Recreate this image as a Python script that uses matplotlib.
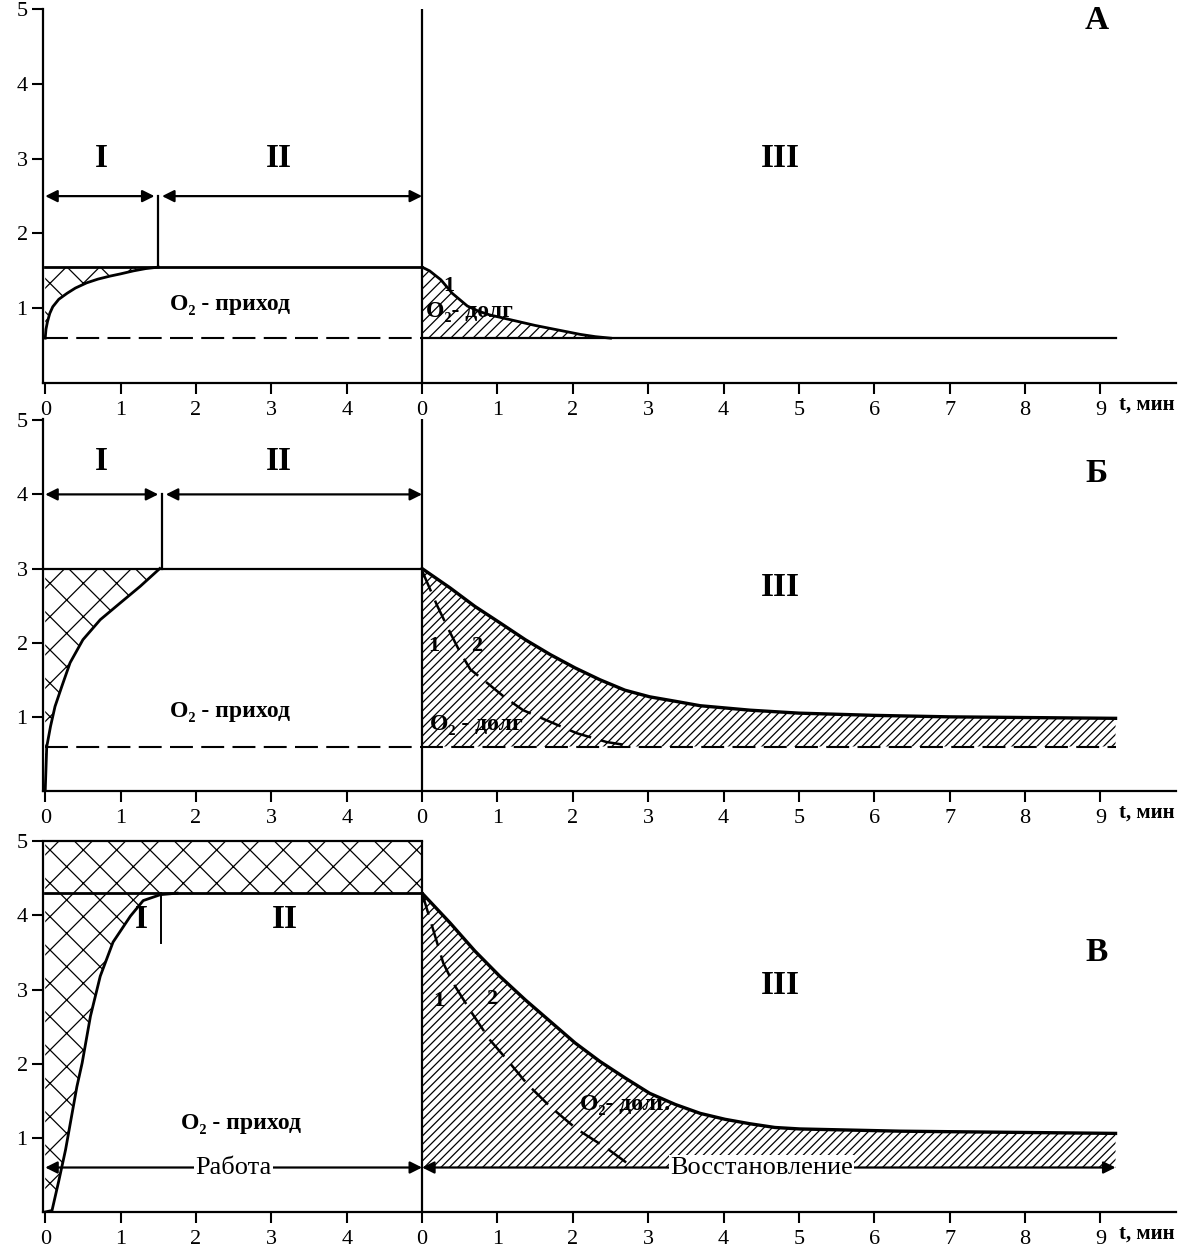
import matplotlib
matplotlib.use('Agg')
import matplotlib.pyplot as plt

plt.rcParams['font.family'] = ['Liberation Serif', 'DejaVu Serif']
plt.rcParams['hatch.linewidth'] = 0.9

# ---------------- data ----------------
WORK_END = 5.0          # recovery time is drawn shifted by the work duration
T_END_REC = 9.2         # end of the recovery traces (min)
x_tick_pos = list(range(15))
x_tick_labels = ['0', '1', '2', '3', '4', '0', '1', '2', '3', '4', '5', '6', '7', '8', '9']
y_ticks = [1, 2, 3, 4, 5]
y_tick_labels = ['1', '2', '3', '4', '5']

# Panel A
a_plateau = 1.55
a_base = 0.6
a_phase_end = 1.5
a_work_t = [0, 0.01, 0.03, 0.06, 0.1, 0.18, 0.29, 0.4, 0.55, 0.7, 0.86, 1.0, 1.17, 1.33, 1.5]
a_work_y = [0.6, 0.72, 0.82, 0.93, 1.02, 1.12, 1.2, 1.27, 1.34, 1.39, 1.43, 1.46, 1.5, 1.53, 1.55]
a_rec_t = [0, 0.1, 0.25, 0.4, 0.6, 0.75, 0.9, 1.2, 1.5, 1.8, 2.1, 2.3, 2.5]
a_rec_y = [1.55, 1.5, 1.38, 1.2, 1.03, 0.96, 0.91, 0.84, 0.77, 0.71, 0.65, 0.62, 0.6]

# Panel Б
b_plateau = 3.0
b_base = 0.6
b_phase_end = 1.55
b_work_t = [0, 0.02, 0.03, 0.07, 0.13, 0.22, 0.33, 0.5, 0.73, 1.0, 1.26, 1.52]
b_work_y = [0, 0.6, 0.65, 0.87, 1.14, 1.41, 1.73, 2.04, 2.31, 2.54, 2.76, 3.0]
b_rec_t = [0, 0.37, 0.7, 1.03, 1.37, 1.7, 2.03, 2.36, 2.69, 3.02, 3.36, 3.69, 4.02, 4.35,
           5.0, 6.0, 7.0, 9.2]
b_rec_y = [3.0, 2.74, 2.49, 2.27, 2.04, 1.84, 1.66, 1.5, 1.36, 1.27, 1.21, 1.15, 1.12, 1.09,
           1.05, 1.02, 1.0, 0.98]
b_fast_t = [0, 0.2, 0.37, 0.5, 0.64, 0.86, 1.1, 1.34, 1.66, 2.05, 2.45, 2.7]
b_fast_y = [2.97, 2.5, 2.14, 1.88, 1.64, 1.46, 1.26, 1.09, 0.95, 0.78, 0.66, 0.62]

# Panel В
v_plateau = 4.3
v_top = 5.0
v_base = 0.6
v_phase_end = 1.53
v_work_t = [0, 0.09, 0.18, 0.27, 0.42, 0.49, 0.6, 0.73, 0.9, 1.13, 1.3, 1.53, 1.75]
v_work_y = [0, 0.02, 0.42, 0.84, 1.69, 2.01, 2.64, 3.18, 3.64, 3.99, 4.2, 4.28, 4.3]
v_rec_t = [0, 0.37, 0.7, 1.03, 1.37, 1.7, 2.03, 2.36, 2.69, 3.02, 3.36, 3.69, 4.02, 4.35,
           4.68, 5.01, 6.34, 9.2]
v_rec_y = [4.3, 3.9, 3.52, 3.18, 2.86, 2.57, 2.28, 2.03, 1.81, 1.6, 1.45, 1.33, 1.25, 1.19,
           1.14, 1.12, 1.09, 1.06]
v_fast_t = [0, 0.28, 0.41, 0.65, 0.9, 1.13, 1.4, 1.7, 2.05, 2.45, 2.8]
v_fast_y = [4.3, 3.36, 3.09, 2.7, 2.32, 2.05, 1.72, 1.42, 1.12, 0.86, 0.6]

# ---------------- figure ----------------
fig = plt.figure(figsize=(11.9, 12.5), dpi=100)
axA = fig.add_axes([0.0361, 0.6936, 0.952, 0.2996])
axB = fig.add_axes([0.0361, 0.3672, 0.952, 0.2972])
axV = fig.add_axes([0.0361, 0.0304, 0.952, 0.2972])

LW = 2.0
REC_END = WORK_END + T_END_REC


def rec(ts):
    return [WORK_END + t for t in ts]


def style(ax):
    ax.set_xlim(-0.03, 15.0)
    ax.set_ylim(0, 5.01)
    for s in ['top', 'right']:
        ax.spines[s].set_visible(False)
    for s in ['left', 'bottom']:
        ax.spines[s].set_linewidth(1.6)
    ax.set_xticks(x_tick_pos)
    ax.set_xticklabels(x_tick_labels)
    ax.set_yticks(y_ticks)
    ax.set_yticklabels(y_tick_labels)
    ax.tick_params(axis='both', direction='out', length=8, width=1.5, labelsize=16)
    ax.tick_params(axis='x', pad=5)
    ax.tick_params(axis='y', pad=3)
    ax.axvline(WORK_END, ymin=0, ymax=5.0 / 5.01, color='black', lw=1.6)
    ax.text(14.25, -0.16, 't, мин', fontsize=15, fontweight='bold', va='top', ha='left',
            clip_on=False)


def dbl_arrow(ax, x0, x1, y, ms=18):
    ax.annotate('', xy=(x1, y), xytext=(x0, y),
                arrowprops=dict(arrowstyle='<|-|>', color='black', lw=1.6,
                                mutation_scale=ms, shrinkA=0, shrinkB=0))


roman_kw = dict(fontsize=24, fontweight='bold', ha='center', va='center')
lbl_kw = dict(fontsize=17, fontweight='bold', va='center')
num_kw = dict(fontsize=16, fontweight='bold', va='center')

# ---- Panel A ----
ax = axA
style(ax)
ax.fill_between(a_work_t, a_work_y, a_plateau, facecolor='none', edgecolor='black',
                hatch='x', linewidth=0)
ax.plot(a_work_t, a_work_y, color='black', lw=LW)
ax.plot([0, WORK_END], [a_plateau, a_plateau], color='black', lw=LW)
ax.plot([0, WORK_END], [a_base, a_base], color='black', lw=1.5, ls=(0, (11, 4)))
ax.plot([a_phase_end, a_phase_end], [a_plateau, 2.5], color='black', lw=1.6)
dbl_arrow(ax, 0.0, a_phase_end - 0.05, 2.5)
dbl_arrow(ax, a_phase_end + 0.05, WORK_END, 2.5)
ax.fill_between(rec(a_rec_t), a_rec_y, a_base, facecolor='none', edgecolor='black',
                hatch='///', linewidth=0)
ax.plot(rec(a_rec_t), a_rec_y, color='black', lw=LW)
ax.plot([WORK_END, REC_END], [a_base, a_base], color='black', lw=1.6)
ax.text(0.75, 3.0, 'I', **roman_kw)
ax.text(3.1, 3.0, 'II', **roman_kw)
ax.text(9.75, 3.0, 'III', **roman_kw)
ax.text(13.95, 4.85, 'А', **roman_kw)
ax.text(1.65, 1.05, 'O₂ - приход', ha='left', **lbl_kw)
ax.text(5.28, 1.3, '1', ha='left', **num_kw)
ax.text(5.05, 0.95, 'O₂- долг', ha='left', **lbl_kw)

# ---- Panel Б ----
ax = axB
style(ax)
ax.fill_between(b_work_t, b_work_y, b_plateau, facecolor='none', edgecolor='black',
                hatch='x', linewidth=0)
ax.plot(b_work_t, b_work_y, color='black', lw=LW)
ax.plot([0, WORK_END], [b_plateau, b_plateau], color='black', lw=1.6)
ax.plot([0, REC_END], [b_base, b_base], color='black', lw=1.5, ls=(0, (11, 4)))
ax.plot([b_phase_end, b_phase_end], [b_plateau, 4.0], color='black', lw=1.6)
dbl_arrow(ax, 0.0, b_phase_end - 0.05, 4.0)
dbl_arrow(ax, b_phase_end + 0.05, WORK_END, 4.0)
ax.fill_between(rec(b_rec_t), b_rec_y, b_base, facecolor='none', edgecolor='black',
                hatch='////', linewidth=0)
ax.plot(rec(b_rec_t), b_rec_y, color='black', lw=2.4)
ax.plot(rec(b_fast_t), b_fast_y, color='black', lw=1.8, ls=(0, (9, 4)))
ax.text(0.75, 4.45, 'I', **roman_kw)
ax.text(3.1, 4.45, 'II', **roman_kw)
ax.text(9.75, 2.75, 'III', **roman_kw)
ax.text(13.95, 4.28, 'Б', **roman_kw)
ax.text(1.65, 1.07, 'O₂ - приход', ha='left', **lbl_kw)
ax.text(5.08, 1.95, '1', ha='left', **num_kw)
ax.text(5.65, 1.95, '2', ha='left', **num_kw)
ax.text(5.1, 0.9, 'O₂ - долг', ha='left', **lbl_kw)

# ---- Panel В ----
ax = axV
style(ax)
ax.fill_between(v_work_t + [WORK_END], v_work_y + [v_plateau], v_top, facecolor='none',
                edgecolor='black', hatch='x', linewidth=0)
ax.plot(v_work_t, v_work_y, color='black', lw=LW)
ax.plot([0, WORK_END], [v_plateau, v_plateau], color='black', lw=LW)
ax.plot([0, WORK_END], [v_top, v_top], color='black', lw=1.6, clip_on=False)
ax.plot([v_phase_end, v_phase_end], [v_plateau, 3.63], color='black', lw=1.4)
ax.fill_between(rec(v_rec_t), v_rec_y, v_base, facecolor='none', edgecolor='black',
                hatch='////', linewidth=0)
ax.plot(rec(v_rec_t), v_rec_y, color='black', lw=2.4)
ax.plot(rec(v_fast_t), v_fast_y, color='black', lw=1.8, ls=(0, (9, 4)))
dbl_arrow(ax, 0.0, WORK_END, v_base)
dbl_arrow(ax, WORK_END, REC_END, v_base)
bb = dict(facecolor='white', edgecolor='none', pad=1)
ax.text(2.5, v_base, 'Работа', fontsize=19, ha='center', va='center', bbox=bb)
ax.text(9.5, v_base, 'Восстановление', fontsize=19, ha='center', va='center', bbox=bb)
ax.text(1.28, 3.95, 'I', **roman_kw)
ax.text(3.18, 3.95, 'II', **roman_kw)
ax.text(9.75, 3.05, 'III', **roman_kw)
ax.text(13.95, 3.5, 'В', **roman_kw)
ax.text(1.8, 1.2, 'O₂ - приход', ha='left', **lbl_kw)
ax.text(5.15, 2.85, '1', ha='left', **num_kw)
ax.text(5.85, 2.87, '2', ha='left', **num_kw)
ax.text(7.1, 1.45, 'O₂- долг.', ha='left', **lbl_kw)

fig.savefig('out.png', dpi=100)
